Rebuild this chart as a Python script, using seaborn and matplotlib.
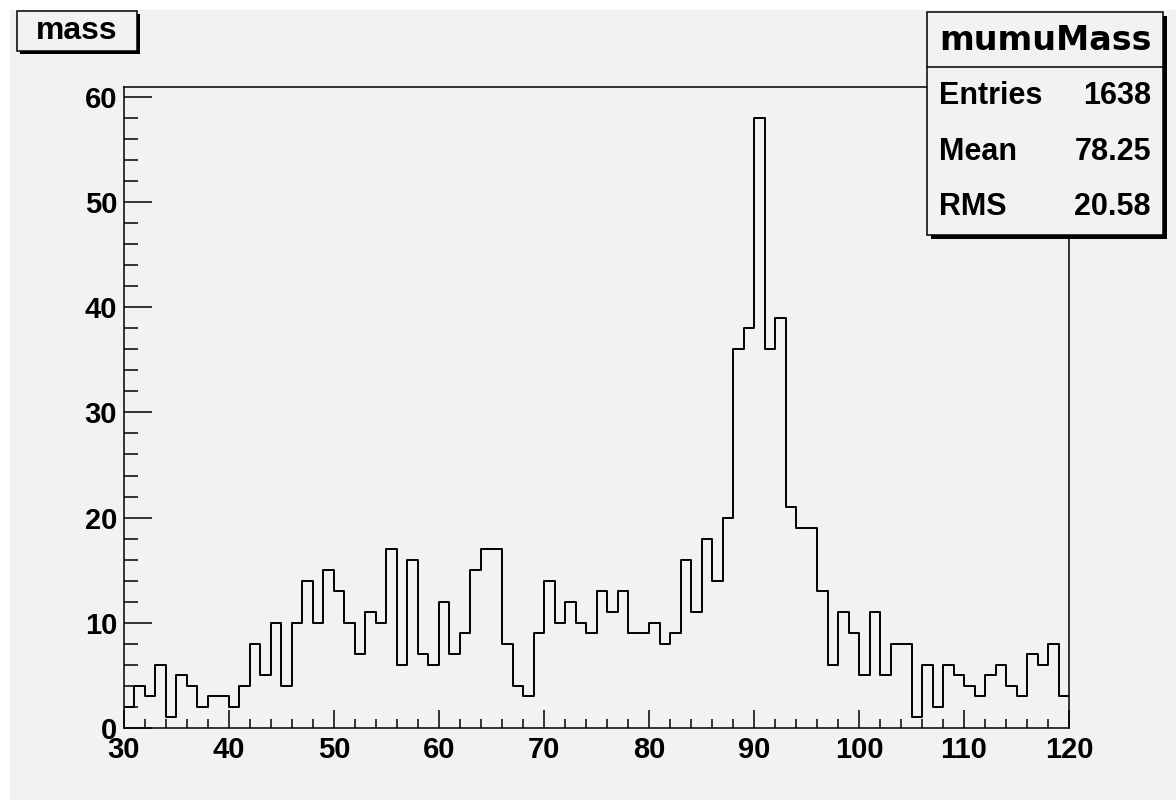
import numpy as np
import pandas as pd
import matplotlib
matplotlib.use("Agg")
import matplotlib.pyplot as plt
from matplotlib.patches import Rectangle
from matplotlib.lines import Line2D
from matplotlib.ticker import MultipleLocator
import seaborn as sns

# ---- data (1 GeV bins from 30 to 120) ----
bin_low = list(range(30, 120))
counts = [
    2, 4, 3, 6, 1, 5, 4, 2, 3, 3,
    2, 4, 8, 5, 10, 4, 10, 14, 10, 15,
    13, 10, 7, 11, 10, 17, 6, 16, 7, 6,
    12, 7, 9, 15, 17, 17, 8, 4, 3, 9,
    14, 10, 12, 10, 9, 13, 11, 13, 9, 9,
    10, 8, 9, 16, 11, 18, 14, 20, 36, 38,
    58, 36, 39, 21, 19, 19, 13, 6, 11, 9,
    5, 11, 5, 8, 8, 1, 6, 2, 6, 5,
    4, 3, 5, 6, 4, 3, 7, 6, 8, 3,
]
hist_name = "mumuMass"
title_text = "mass"
stat_labels = ["Entries", "Mean", "RMS"]
stat_values = ["1638", "78.25", "20.58"]
x_ticks = [30, 40, 50, 60, 70, 80, 90, 100, 110, 120]
y_ticks = [0, 10, 20, 30, 40, 50, 60]

sns.set_theme(style="ticks")
plt.rcParams["font.family"] = ["Liberation Sans", "DejaVu Sans"]
plt.rcParams["font.weight"] = "bold"
plt.rcParams["text.color"] = "black"
plt.rcParams["xtick.color"] = "black"
plt.rcParams["ytick.color"] = "black"
plt.rcParams["xtick.labelcolor"] = "black"
plt.rcParams["ytick.labelcolor"] = "black"

W, H = 1176, 800
BG = "#f2f2f2"

def fx(x):
    return x / W

def fy(y):
    return 1 - y / H

fig = plt.figure(figsize=(W / 100, H / 100), dpi=100)
fig.patch.set_facecolor("white")
fig.add_artist(Rectangle((fx(10), 0), 1 - fx(10), fy(10), transform=fig.transFigure,
                         facecolor=BG, edgecolor="none", zorder=-10))

ax = fig.add_axes([fx(124), fy(728), fx(1069) - fx(124), fy(87) - fy(728)])
ax.set_facecolor(BG)

df = pd.DataFrame({"mass": [b + 0.5 for b in bin_low], "count": counts})
edges = bin_low + [bin_low[-1] + 1]
sns.histplot(data=df, x="mass", weights="count", bins=edges, element="step",
             fill=False, color="black", linewidth=1.4, ax=ax)

ax.set_xlim(30, 120)
ax.set_ylim(0, 60.93)
ax.set_xlabel("")
ax.set_ylabel("")
ax.set_xticks(x_ticks)
ax.set_yticks(y_ticks)
ax.xaxis.set_minor_locator(MultipleLocator(2))
ax.yaxis.set_minor_locator(MultipleLocator(2))
ax.tick_params(axis="both", which="both", direction="in", top=False, right=False,
               colors="black", labelcolor="black", width=1.1)
ax.tick_params(axis="y", which="major", length=20, pad=5, labelsize=21)
ax.tick_params(axis="y", which="minor", length=10)
ax.tick_params(axis="x", which="major", length=13, pad=6, labelsize=21)
ax.tick_params(axis="x", which="minor", length=6.5)
for lab in ax.get_xticklabels() + ax.get_yticklabels():
    lab.set_fontweight("bold")
    lab.set_color("black")
for s in ax.spines.values():
    s.set_visible(True)
    s.set_color("black")
    s.set_linewidth(1.1)

# ---- title box "mass" with shadow ----
def shadow_box(x0, y0, x1, y1, off):
    fig.add_artist(Rectangle((fx(x0 + off), fy(y1 + off)), fx(x1 - x0), fy(y0) - fy(y1),
                             transform=fig.transFigure, facecolor="black",
                             edgecolor="none", zorder=5))
    fig.add_artist(Rectangle((fx(x0), fy(y1)), fx(x1 - x0), fy(y0) - fy(y1),
                             transform=fig.transFigure, facecolor=BG,
                             edgecolor="black", linewidth=1.1, zorder=6))

shadow_box(17, 11, 137, 51, 3)
fig.text(fx(77), fy(31), title_text, ha="center", va="center", fontsize=23,
         fontweight="bold", color="black", zorder=7)

# ---- stats box ----
shadow_box(927, 12, 1163, 235, 4)
fig.add_artist(Line2D([fx(927), fx(1163)], [fy(67), fy(67)], transform=fig.transFigure,
                      color="black", linewidth=1.1, zorder=7))
fig.text(fx(1045), fy(40), hist_name, ha="center", va="center", fontsize=24,
         fontweight="bold", family="DejaVu Sans", color="black", zorder=7)
for i, (lab, val) in enumerate(zip(stat_labels, stat_values)):
    yc = [96, 152, 207][i]
    fig.text(fx(939), fy(yc), lab, ha="left", va="center", fontsize=22,
             fontweight="bold", color="black", zorder=7)
    fig.text(fx(1151), fy(yc), val, ha="right", va="center", fontsize=22,
             fontweight="bold", color="black", zorder=7)

fig.savefig("out.png", dpi=100, facecolor=fig.get_facecolor())
